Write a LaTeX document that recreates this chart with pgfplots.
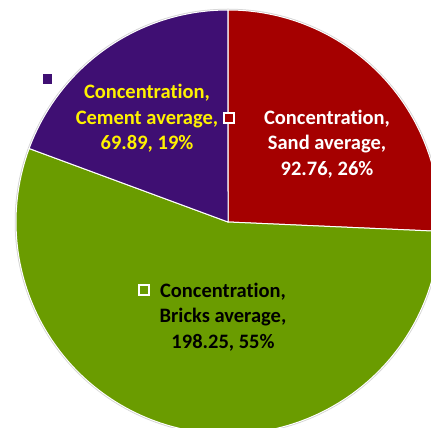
\documentclass[border=0pt]{standalone}
\usepackage{pgfplots}
\usepackage{pgfplotstable}
\pgfplotsset{compat=1.18}
\usepackage{fontspec}
\setmainfont{Carlito}[Ligatures={NoCommon}]
\definecolor{sandcol}{RGB}{165,0,0}
\definecolor{brickcol}{RGB}{106,156,0}
\definecolor{cementcol}{RGB}{63,15,115}
\pgfplotstableread{
label value
Sand 92.76
Bricks 198.25
Cement 69.89
}\piedata
\begin{document}
\begin{tikzpicture}
\pgfplotstablegetelem{0}{value}\of\piedata \let\va\pgfplotsretval
\pgfplotstablegetelem{1}{value}\of\piedata \let\vb\pgfplotsretval
\pgfplotstablegetelem{2}{value}\of\piedata \let\vc\pgfplotsretval
\pgfmathsetmacro\tot{\va+\vb+\vc}
\pgfmathsetmacro\aA{90}
\pgfmathsetmacro\aB{90-360*(\va/\tot)}
\pgfmathsetmacro\aC{\aB-360*(\vb/\tot)}
\pgfmathsetmacro\aD{\aC-360*(\vc/\tot)}
\begin{axis}[x=1pt,y=1pt,xmin=0,xmax=431,ymin=0,ymax=428,hide axis,clip=true,
  font=\bfseries\fontsize{20.5}{25.5}\selectfont]
\coordinate (bl) at (axis cs:0,0);
\coordinate (tr) at (axis cs:431,428);
\draw[gray!35,line width=1.5pt] (axis cs:228,206) circle[radius=212.5pt];
\filldraw[fill=sandcol,draw=white,line width=1pt] (axis cs:228,206) -- ++(\aA:212pt) arc[start angle=\aA,end angle=\aB,radius=212pt] -- cycle;
\filldraw[fill=brickcol,draw=white,line width=1pt] (axis cs:228,206) -- ++(\aB:212pt) arc[start angle=\aB,end angle=\aC,radius=212pt] -- cycle;
\filldraw[fill=cementcol,draw=white,line width=1pt] (axis cs:228,206) -- ++(\aC:212pt) arc[start angle=\aC,end angle=\aD,radius=212pt] -- cycle;
\addplot[only marks,mark=square*,mark size=4.3pt,mark options={fill=cementcol,draw=cementcol}] coordinates {(47,349)};
\addplot[only marks,mark=square*,mark size=5pt,mark options={fill=sandcol,draw=white,line width=1.2pt}] coordinates {(229,310)};
\addplot[only marks,mark=square*,mark size=5pt,mark options={fill=brickcol,draw=white,line width=1.2pt}] coordinates {(144,138)};
\node[align=center,text=white] at (axis cs:327,284) {Concentration,\\Sand average,\\92.76, 26\%};
\node[align=center,text=yellow] at (axis cs:147,309.5) {Concentration,\\Cement average,\\69.89, 19\%};
\node[align=center,text=black] at (axis cs:223,111) {Concentration,\\Bricks average,\\198.25, 55\%};
\end{axis}
\pgfresetboundingbox
\path[use as bounding box] (bl) rectangle (tr);
\end{tikzpicture}
\end{document}
